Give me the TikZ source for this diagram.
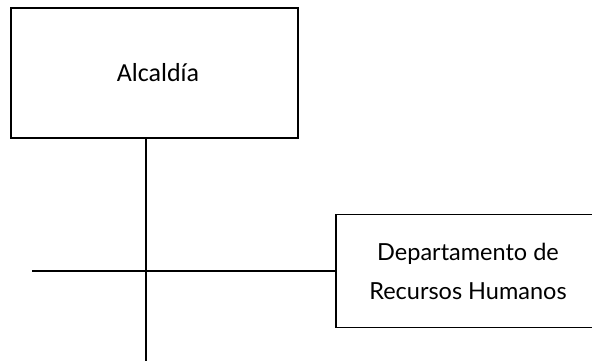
\documentclass[tikz,border=0pt]{standalone}
\usepackage{fontspec}
\usepackage{tikz}
\newfontfamily\carlito{Carlito}
\newfontfamily\lato{Lato}

\begin{document}
\begin{tikzpicture}[x=1pt,y=-1pt,
    orgbox/.style={shape=rectangle,draw=black,line width=1.4pt,inner sep=0pt},
    orgline/.style={line width=1.4pt}]
    \useasboundingbox (0,0) rectangle (592,360);
    \node[orgbox,minimum width=287pt,minimum height=130pt,font=\carlito\fontsize{26}{31}\selectfont] (alcaldia) at (154.5,73) {\hspace{7pt}Alcald\'ia};
    \node[orgbox,minimum width=264pt,minimum height=113pt,align=center,font=\lato\fontsize{23.5}{39}\selectfont] (rrhh) at (468,271) {Departamento de\\Recursos Humanos};
    \coordinate (bottom) at (146,362);
    \coordinate (left) at (32,271);
    \path [orgline](alcaldia.south -| bottom) edge (bottom);
    \path [orgline](left) edge (rrhh.west);
\end{tikzpicture}
\end{document}
